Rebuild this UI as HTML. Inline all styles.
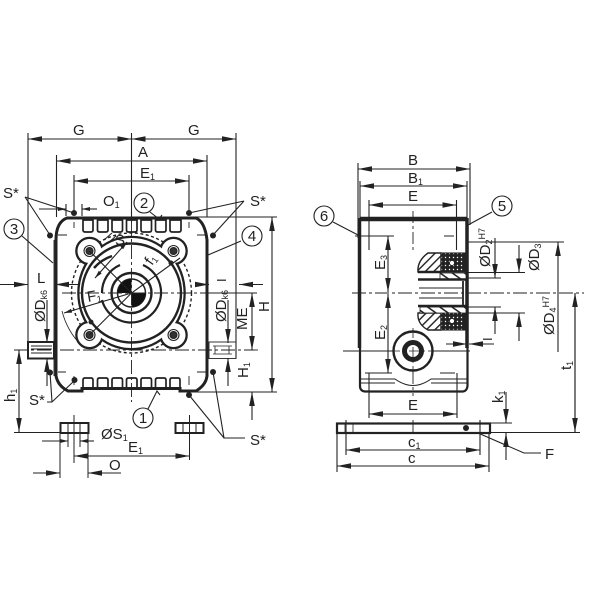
<!DOCTYPE html>
<html><head><meta charset="utf-8"><style>
html,body{margin:0;padding:0;background:#fff}
svg{display:block}
text{font-family:"Liberation Sans",sans-serif;font-size:15px;fill:#222;stroke:none}
.s{font-size:9px}
</style></head><body>
<svg width="600" height="600" viewBox="0 0 600 600" xmlns="http://www.w3.org/2000/svg">
<defs>
<marker id="a" markerUnits="userSpaceOnUse" markerWidth="15" markerHeight="8" refX="14" refY="4" orient="auto-start-reverse"><path d="M0 1.2L14 4L0 6.8Z" fill="#222"/></marker>
<marker id="b" markerUnits="userSpaceOnUse" markerWidth="9" markerHeight="6" refX="8" refY="3" orient="auto-start-reverse"><path d="M0 1L8 3L0 5Z" fill="#222"/></marker>
<pattern id="h" width="6" height="6" patternUnits="userSpaceOnUse" patternTransform="rotate(45)"><rect width="6" height="6" fill="#fff"/><rect width="1.4" height="6" fill="#222"/></pattern>
<pattern id="g" width="7" height="7" patternUnits="userSpaceOnUse" patternTransform="rotate(-55)"><rect width="7" height="7" fill="#fff"/><rect width="1.5" height="7" fill="#222"/></pattern>
<pattern id="d" width="4" height="4" patternUnits="userSpaceOnUse"><rect width="4" height="4" fill="#222"/><circle cx="1.5" cy="1.5" r="0.7" fill="#fff"/></pattern>
</defs>

<g fill="none" stroke="#222" stroke-width="1.1">
<!-- LEFT VIEW: extension lines -->
<path d="M28 133V358M131.5 133V222M236 133V358M56.5 155V217M207 155V217M74 175V213M189 175V213M66 204V216M82 204V216"/>
<!-- top dims -->
<path d="M28 139H131.5" marker-start="url(#a)" marker-end="url(#a)"/>
<path d="M131.5 139H236" marker-start="url(#a)" marker-end="url(#a)"/>
<path d="M56.5 161H207" marker-start="url(#a)" marker-end="url(#a)"/>
<path d="M74 181H189" marker-start="url(#a)" marker-end="url(#a)"/>
<path d="M39 209H66" marker-end="url(#b)"/><path d="M97 209H82" marker-end="url(#b)"/>

<!-- flange -->
<circle cx="131.500" cy="293" r="60" stroke-width="1.400" stroke-dasharray="3 2.500"/>
<g stroke-width="2.600">
<ellipse cx="131.500" cy="293" rx="53" ry="56"/><circle cx="89.500" cy="251" r="13"/><circle cx="173.500" cy="251" r="13"/><circle cx="89.500" cy="335" r="13"/><circle cx="173.500" cy="335" r="13"/>
</g>
<g fill="#fff" stroke="none">
<ellipse cx="131.500" cy="293" rx="52" ry="55"/><circle cx="89.500" cy="251" r="12"/><circle cx="173.500" cy="251" r="12"/><circle cx="89.500" cy="335" r="12"/><circle cx="173.500" cy="335" r="12"/>
</g>
<circle cx="131.500" cy="293" r="49.500" stroke-width="2.400"/>
<path d="M94 268A42 42 0 0 1 112 256" stroke-width="2.500"/>
<path d="M102 293A30 30 0 0 1 120 265M143 265A30 30 0 1 1 102 300" stroke-width="2.200"/>
<circle cx="131.500" cy="293" r="20" stroke-width="2.400"/>
<circle cx="131.500" cy="293" r="14" fill="#fff" stroke-width="1.500"/>
<path d="M131.500 293V279A14 14 0 0 0 117.500 293ZM131.500 293V307A14 14 0 0 0 145.500 293Z" fill="#111" stroke="none"/>
<!-- ears detail -->
<g fill="#333"><circle cx="89.500" cy="251" r="3.500"/><circle cx="173.500" cy="251" r="3.500"/><circle cx="89.500" cy="335" r="3.500"/><circle cx="173.500" cy="335" r="3.500"/></g>
<circle cx="89.500" cy="251" r="5.500"/><circle cx="173.500" cy="251" r="5.500"/><circle cx="89.500" cy="335" r="5.500"/><circle cx="173.500" cy="335" r="5.500"/>
<!-- diagonals / leaders -->
<path d="M89.500 251L131.500 293M89.500 335L131.500 293L180 258"/>
<path d="M127 242L95 278" marker-start="url(#b)" marker-end="url(#b)"/>
<path d="M104 240L112 233M108 243L116 236"/>
<path d="M64 313L131.500 293" marker-start="url(#b)"/>
<path d="M62 311A75 75 0 0 0 82 346" stroke-width="0.800"/>
<circle cx="91" cy="322" r="2.500" fill="#222" stroke="none"/><circle cx="171" cy="263" r="2.500" fill="#222" stroke="none"/>
<!-- body outline -->
<path d="M56 376V240Q56 222 67 218H196Q205 222 207 240V376Q206 385 196 391H180V388.500H82V391H68Q58 386 56 376Z" stroke-width="3"/>
<path d="M54 240V376" stroke-width="0.900"/>
<!-- teeth -->
<g stroke-width="1.700">
<path d="M83 220H93V230Q93 232 91 232H85Q83 232 83 230ZM97.500 220H108V230Q108 232 106 232H99.500Q97.500 232 97.500 230ZM112 220H122.500V230Q122.500 232 120.500 232H114Q112 232 112 230ZM126.500 220H137V230Q137 232 135 232H128.500Q126.500 232 126.500 230ZM141 220H151.500V230Q151.500 232 149.500 232H143Q141 232 141 230ZM155.500 220H166V230Q166 232 164 232H157.500Q155.500 232 155.500 230ZM170 220H181V230Q181 232 179 232H172Q170 232 170 230Z"/>
<path d="M83 388V380Q83 378 85 378H91Q93 378 93 380V388M97.500 388V380Q97.500 378 99.500 378H106Q108 378 108 380V388M112 388V380Q112 378 114 378H120.500Q122.500 378 122.500 380V388M126.500 388V380Q126.500 378 128.500 378H135Q137 378 137 380V388M141 388V380Q141 378 143 378H149.500Q151.500 378 151.500 380V388M155.500 388V380Q155.500 378 157.500 378H164Q166 378 166 380V388M170 388V380Q170 378 172 378H178Q180 378 180 380V388"/>
</g>
<!-- center lines -->
<path d="M131.500 222V402" stroke-dasharray="14 3 3 3" stroke-width="0.900"/>
<path d="M62 293H200" stroke-dasharray="14 3 3 3" stroke-width="0.900"/>
<path d="M14 350H258" stroke-dasharray="14 3 3 3" stroke-width="0.900"/>
<path d="M58 235H67M197 235H206M58 372H66M197 372H206M74 222V228M189 222V228M74 376V385M189 376V385" stroke-width="0.900"/>
<!-- keys -->
<rect x="28" y="342" width="26" height="16.500" stroke-width="2"/>
<path d="M31 346H52M31 349H52M31 353H52" stroke-width="1"/>
<rect x="209" y="342" width="27" height="16.500" stroke-width="0.900"/>
<path d="M213 346H232M213 354H232M215 346V354M229 346V354" stroke-width="0.800"/>
<!-- L dims -->
<path d="M0 284.500H28" marker-end="url(#a)"/><path d="M78 284.500H55" marker-end="url(#a)"/>
<path d="M197 284.500H209" marker-end="url(#a)"/><path d="M263 284.500H239" marker-end="url(#a)"/>
<!-- Dk6 -->
<path d="M47 300V343" marker-end="url(#a)"/><path d="M47 386V358" marker-end="url(#a)"/>
<path d="M228 300V343" marker-end="url(#a)"/><path d="M228 386V358" marker-end="url(#a)"/>
<!-- H, ME, H1 -->
<path d="M190 217H277M190 392H277M200 293H257"/>
<path d="M272 217V392" marker-start="url(#a)" marker-end="url(#a)"/>
<path d="M252 293V350" marker-start="url(#a)" marker-end="url(#a)"/>
<path d="M252 420V392" marker-end="url(#a)"/>
<path d="M19 350V432" marker-start="url(#a)" marker-end="url(#a)"/>
<path d="M14 432.500H60"/>
<!-- plates -->
<g stroke-width="2">
<rect x="60.500" y="423" width="28" height="10"/><rect x="175.500" y="423" width="28" height="10"/>
</g>
<path d="M68 423V433M80 423V433M183 423V433M196 423V433" stroke-width="1"/>
<path d="M74 415V463M189.500 415V460M60 433V478M88 433V478M68 433V447M80 433V447" stroke-width="1"/>
<path d="M42 441H68" marker-end="url(#b)"/><path d="M94 441H80" marker-end="url(#b)"/>
<path d="M74 456H189.500" marker-start="url(#a)" marker-end="url(#a)"/>
<path d="M33 473H60" marker-end="url(#a)"/><path d="M121 473H88" marker-end="url(#a)"/>
<!-- S* leaders -->
<path d="M25 197L74 213M25 197L50 235M22 236L53 263M244 201L189 213M244 201L213 235M241 241L208 255M47 402H52L74 381M52 402L50 372M189 395L224 438M213 372L224 438H245M150 212L159 219L162 215M148 409L157 391L160 395"/>
<g fill="#222" stroke="none"><circle cx="74" cy="213" r="3"/><circle cx="50" cy="235.500" r="3"/><circle cx="189" cy="213" r="3"/><circle cx="213" cy="235.500" r="3"/><circle cx="74.500" cy="380" r="3"/><circle cx="50" cy="372.500" r="3"/><circle cx="189" cy="395" r="3"/><circle cx="213" cy="372" r="3"/></g>
<g stroke-width="1.100" fill="#fff"><circle cx="144" cy="203" r="10"/><circle cx="14" cy="229" r="10"/><circle cx="252" cy="236" r="10"/><circle cx="143" cy="418" r="10"/><circle cx="324" cy="216" r="10"/><circle cx="502" cy="206" r="10"/></g>

<!-- RIGHT VIEW -->
<path d="M358 163V238M470 163V225M360 181V218M467 181V218M369 200V250M456.500 200V250"/>
<path d="M358 169H470" marker-start="url(#a)" marker-end="url(#a)"/>
<path d="M360 186H467" marker-start="url(#a)" marker-end="url(#a)"/>
<path d="M369 205H456.500" marker-start="url(#a)" marker-end="url(#a)"/>
<path d="M360 219H467" stroke-width="4.500"/>
<path d="M359.500 218V348M467 218V348" stroke-width="3.500"/>
<path d="M360 348V386Q360 391 365 391.500H463Q467 391 467.500 386V348" stroke-width="2.200"/>
<path d="M360 379H395Q413 392 431 379H467M360 383H395M431 383H467" stroke-width="1"/>
<path d="M413 211V252M413 372V396M413 420V432" stroke-dasharray="12 3 3 3" stroke-width="0.900"/>
<path d="M355 236H394M444 236H454M365 373H392M440 373H455M343 351H470"/>
<path d="M352 293H584" stroke-dasharray="14 3 3 3" stroke-width="0.900"/>
<path d="M388 236V292" marker-start="url(#a)" marker-end="url(#a)"/>
<path d="M388 294V373" marker-start="url(#a)" marker-end="url(#a)"/>
<!-- section -->
<path d="M418 272Q417 261 428 253H441V272Z" fill="url(#h)" stroke-width="1.400"/>
<path d="M418 313Q417 324 428 330H441V313Z" fill="url(#h)" stroke-width="1.400"/>
<rect x="441" y="253" width="24" height="19" fill="url(#d)" stroke="#222"/>
<rect x="441" y="313" width="24" height="17" fill="url(#d)" stroke="#222"/>
<circle cx="452" cy="263" r="2.500" fill="#fff" stroke-width="0.800"/><circle cx="452" cy="321" r="2.500" fill="#fff" stroke-width="0.800"/>
<rect x="440" y="273" width="26" height="6" fill="url(#g)" stroke-width="0.800"/>
<rect x="420" y="307" width="46" height="6" fill="url(#g)" stroke-width="0.800"/>
<path d="M418 279.500H466M418 272H441M418 306H466" stroke-width="2.400"/>
<path d="M419 288H462M419 298H462" stroke-width="1.100"/>
<path d="M463 281V306" stroke-width="1.800"/>
<!-- hole -->
<circle cx="413" cy="351" r="19.500" stroke-width="2.400" fill="#fff"/>
<circle cx="413" cy="351" r="8.500" stroke-width="5"/>
<path d="M413 328V374M390 351H436" stroke-dasharray="10 3 3 3" stroke-width="0.800"/>
<!-- right dims -->
<path d="M468 242H564M468 272.500H525M468 313H525M468 278H501M468 307H501"/>
<path d="M495 238V278" marker-end="url(#a)"/><path d="M495 334V307" marker-end="url(#a)"/>
<path d="M519 245V272.500" marker-end="url(#a)"/><path d="M519 341V313" marker-end="url(#a)"/>
<path d="M558 352V242" marker-end="url(#a)"/>
<path d="M446 344H467" marker-end="url(#a)"/><path d="M494 344H469" marker-end="url(#a)"/>
<path d="M575 432V293" marker-end="url(#a)"/><path d="M575 293V432" marker-end="url(#a)"/>
<path d="M463 432.500H580"/>
<!-- plate -->
<rect x="337" y="423.500" width="153" height="9.500" stroke-width="2.200"/>
<path d="M345 423V433M353 423V433" stroke-width="0.800"/>
<path d="M346 420V455M480 420V455M337 433V472M489 433V472M369 373V418M457 373V418M480 423H512"/>
<circle cx="466" cy="428" r="3" fill="#222" stroke="none"/>
<path d="M369 414H457" marker-start="url(#a)" marker-end="url(#a)"/>
<path d="M346 450H480" marker-start="url(#a)" marker-end="url(#a)"/>
<path d="M337 466H489" marker-start="url(#a)" marker-end="url(#a)"/>
<path d="M506 392V423" marker-end="url(#a)"/><path d="M506 460V433" marker-end="url(#a)"/>
<path d="M478 433L524 453H541"/>
<path d="M333 222L358 235M492 212L468 225"/>
</g>

<!-- Labels -->
<text x="73" y="135">G</text><text x="188" y="135">G</text>
<text x="138" y="157">A</text>
<text x="140" y="178">E<tspan class="s" dy="2">1</tspan></text>
<text x="103" y="206">O<tspan class="s" dy="2">1</tspan></text>
<text x="3" y="198">S*</text><text x="250" y="206">S*</text>
<text x="29" y="405">S*</text><text x="250" y="445">S*</text>
<g text-anchor="middle" style="font-size:14px">
<text x="144" y="208">2</text><text x="14" y="234">3</text><text x="252" y="241">4</text><text x="143" y="423">1</text><text x="324" y="221">6</text><text x="502" y="211">5</text>
</g>
<text x="37" y="283">L</text>
<text transform="translate(226,282) rotate(-90)" style="font-size:13px">I</text>
<text x="115" y="245">S</text>
<text transform="translate(88,302) rotate(-10)">F<tspan class="s" dy="2">1</tspan></text>
<text transform="translate(152,266) rotate(-55)">f<tspan class="s" dy="2">1</tspan></text>
<text transform="translate(45,322) rotate(-90)">ØD<tspan class="s" dy="2">k6</tspan></text>
<text transform="translate(226,322) rotate(-90)">ØD<tspan class="s" dy="2">k6</tspan></text>
<text transform="translate(269,312) rotate(-90)">H</text>
<text transform="translate(247,330) rotate(-90)">ME</text>
<text transform="translate(248,378) rotate(-90)">H<tspan class="s" dy="2">1</tspan></text>
<text transform="translate(15,402) rotate(-90)">h<tspan class="s" dy="2">1</tspan></text>
<text x="101" y="439">ØS<tspan class="s" dy="2">1</tspan></text>
<text x="128" y="452">E<tspan class="s" dy="2">1</tspan></text>
<text x="109" y="470">O</text>
<text x="408" y="165">B</text>
<text x="408" y="183">B<tspan class="s" dy="2">1</tspan></text>
<text x="408" y="201">E</text>
<text x="408" y="410">E</text>
<text transform="translate(385,270) rotate(-90)">E<tspan class="s" dy="2">3</tspan></text>
<text transform="translate(385,340) rotate(-90)">E<tspan class="s" dy="2">2</tspan></text>
<text x="408" y="447">c<tspan class="s" dy="2">1</tspan></text>
<text x="408" y="463">c</text>
<text transform="translate(490,267) rotate(-90)">ØD<tspan class="s" dy="2">2</tspan><tspan class="s" dy="-7">H7</tspan></text>
<text transform="translate(539,271) rotate(-90)">ØD<tspan class="s" dy="2">3</tspan></text>
<text transform="translate(554,335) rotate(-90)">ØD<tspan class="s" dy="2">4</tspan><tspan class="s" dy="-7">H7</tspan></text>
<text transform="translate(492,341) rotate(-90)" style="font-size:13px">I</text>
<text transform="translate(571,370) rotate(-90)">t<tspan class="s" dy="2">1</tspan></text>
<text transform="translate(503,403) rotate(-90)">k<tspan class="s" dy="2">1</tspan></text>
<text x="545" y="459">F</text>
</svg>
</body></html>
